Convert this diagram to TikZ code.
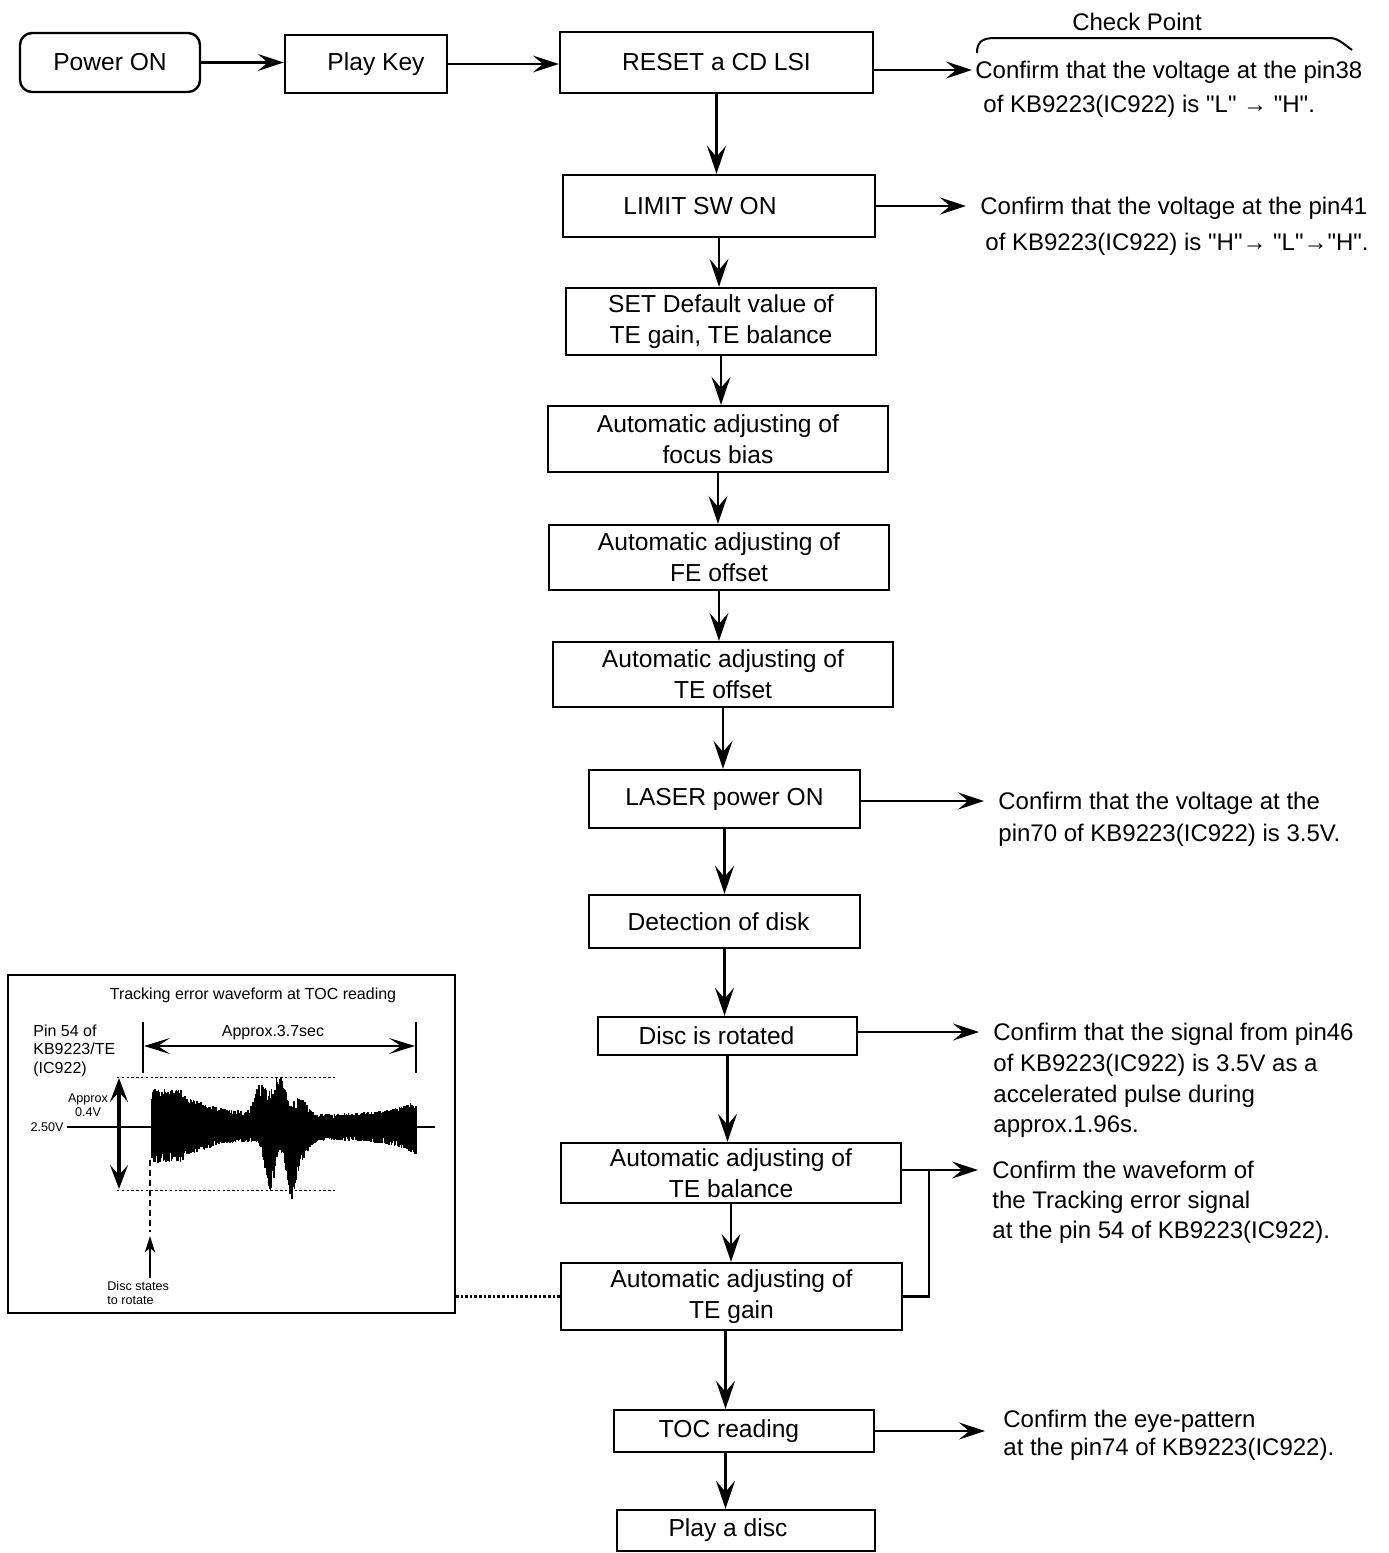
\documentclass[tikz,border=0pt]{standalone}
\usepackage{fontspec}
\setmainfont{Liberation Sans}[Ligatures=TeXOff]
\usetikzlibrary{arrows.meta,positioning,calc}

\begin{document}
\begin{tikzpicture}[x=0.5pt,y=-0.5pt,
    box/.style={draw,line width=1.2pt,align=center,inner sep=0pt,
                font=\fontsize{12.3}{15.5}\selectfont},
    note/.style={anchor=north west,align=left,inner sep=0pt,
                 font=\fontsize{12}{16}\selectfont},
    flow/.style={line width=1.1pt,-{Stealth[length=14pt,width=9.5pt,inset=5.5pt]}},
    hflow/.style={line width=1.1pt,-{Stealth[length=13pt,width=8.5pt,inset=5pt]}},
    chk/.style={hflow,shorten >=7pt},
    wire/.style={line width=1.1pt},
    small/.style={font=\fontsize{8}{9.25}\selectfont,inner sep=0pt},
    tiny/.style={font=\fontsize{6.3}{6.8}\selectfont,inner sep=0pt},
    declare function={bump(\xa,\xc,\xw)=exp(-((\xa-\xc)/\xw)*((\xa-\xc)/\xw));}]

\useasboundingbox (0,0) rectangle (1388,1553);

% main flow
\node[box,rounded corners=6pt,minimum width=90pt,minimum height=29.5pt] (power) at (110,62.5) {Power ON};
\node[box,minimum width=81pt,minimum height=29pt] (play) at (366,64) {\hspace*{10pt}Play Key};
\node[box,minimum width=156.5pt,minimum height=30.5pt] (reset) at (716.5,62.5) {RESET a CD LSI};
\node[box,minimum width=156pt,minimum height=31pt] (limit) at (719,206) {LIMIT SW ON\hspace*{19pt}};
\node[box,minimum width=155pt,minimum height=33.5pt] (setdef) at (721,321.5) {SET Default value of\\TE gain, TE balance};
\node[box,minimum width=170pt,minimum height=33pt] (focus) at (718,439) {Automatic adjusting of\\focus bias};
\node[box,minimum width=170pt,minimum height=32.5pt] (feoff) at (719,557.5) {Automatic adjusting of\\FE offset};
\node[box,minimum width=170pt,minimum height=32.5pt] (teoff) at (723,674.5) {Automatic adjusting of\\TE offset};
\node[box,minimum width=135.5pt,minimum height=29pt] (laser) at (724.5,799) {LASER power ON};
\node[box,minimum width=135.5pt,minimum height=26.5pt] (detect) at (724.5,921.5) {Detection of disk\hspace*{6pt}};
\node[box,minimum width=129.5pt,minimum height=19pt] (rotate) at (727.5,1036) {Disc is rotated\hspace*{11pt}};
\node[box,minimum width=170pt,minimum height=30pt] (tebal) at (731,1173) {Automatic adjusting of\\TE balance};
\node[box,minimum width=170.5pt,minimum height=33.5pt] (tegain) at (731.5,1296.5) {Automatic adjusting of\\TE gain};
\node[box,minimum width=130pt,minimum height=21pt] (toc) at (744,1431) {TOC reading\hspace*{15pt}};
\node[box,minimum width=129pt,minimum height=20.5pt] (playdisc) at (746,1530.5) {Play a disc\hspace*{18pt}};

\draw[hflow] (power.east) -- (power.east -| play.west);
\draw[hflow] (play.east) -- (play.east -| reset.west);

\draw[flow] (reset.south) -- (reset.south |- limit.north);
\draw[flow] (limit.south) -- (limit.south |- setdef.north);
\draw[flow] (setdef.south) -- (setdef.south |- focus.north);
\draw[flow] (focus.south) -- (focus.south |- feoff.north);
\draw[flow] (feoff.south) -- (feoff.south |- teoff.north);
\draw[flow] (teoff.south) -- (teoff.south |- laser.north);
\draw[flow] (laser.south) -- (laser.south |- detect.north);
\draw[flow] (detect.south) -- (detect.south |- rotate.north);
\draw[flow] (rotate.south) -- (rotate.south |- tebal.north);
\draw[flow] (tebal.south) -- (tebal.south |- tegain.north);
\draw[flow] ([xshift=-3pt]tegain.south) -- ([xshift=-3pt]tegain.south |- toc.north);
\draw[flow] ([xshift=-3pt]tegain.south |- toc.south) -- ([xshift=-3pt]tegain.south |- playdisc.north);

% check points
\node[font=\fontsize{12}{15}\selectfont] (cp) at (1137,22) {Check Point};
\draw[line width=1pt] (977,53) .. controls (977,42) and (982,38) .. (995,38) -- (1330,38)
    .. controls (1338,38) and (1345,45) .. (1352,50);

\node[note,font=\fontsize{12}{17}\selectfont] (chk38) at (975,61)
    {Confirm that the voltage at the pin38\\\hspace*{4pt}of KB9223(IC922) is "L" → "H".};
\node[note,font=\fontsize{12}{18}\selectfont] (chk41) at (980,197)
    {Confirm that the voltage at the pin41\\\hspace*{2.5pt}of KB9223(IC922) is "H"→ "L"→"H".};
\node[note] (chk70) at (998,792)
    {Confirm that the voltage at the\\pin70 of KB9223(IC922) is 3.5V.};
\node[note,font=\fontsize{12}{15.3}\selectfont] (chk46) at (993,1023)
    {Confirm that the signal from pin46\\of KB9223(IC922) is 3.5V as a\\accelerated pulse during\\approx.1.96s.};
\node[note,font=\fontsize{12}{15}\selectfont] (chkte) at (992,1161)
    {Confirm the waveform of\\the Tracking error signal\\at the pin 54 of KB9223(IC922).};
\node[note,font=\fontsize{12}{14}\selectfont] (chk74) at (1003,1410)
    {Confirm the eye-pattern\\at the pin74 of KB9223(IC922).};

\coordinate (in38) at ([yshift=-4.5pt]chk38.north west);
\coordinate (in41) at ([yshift=-4.5pt]chk41.north west);
\coordinate (in70) at ([yshift=-4.5pt]chk70.north west);
\coordinate (in46) at ([yshift=-4.5pt]chk46.north west);
\coordinate (inte) at ([yshift=-4.5pt]chkte.north west);
\coordinate (jn) at ($(tebal.east |- inte)+(27,0)$);

\draw[chk,shorten >=1.5pt] (reset.east |- in38) -- (in38);
\draw[chk] (limit.east |- in41) -- (in41);
\draw[chk] (laser.east |- in70) -- (in70);
\draw[chk] (rotate.east |- in46) -- (in46);
\draw[chk] (tebal.east |- inte) -- (inte);
\draw[wire] (tegain.east) -| (jn);
\draw[chk,shorten >=9pt] (toc.east) -- (toc.east -| chk74.west);

% waveform inset
\node[draw,line width=1.3pt,minimum width=223.5pt,minimum height=169pt,inner sep=0pt] (wavebox) at (231.5,1144) {};
\draw[line width=1.1pt,dash pattern=on 1.3pt off 1pt] (tegain.west) -- (tegain.west -| wavebox.east);

\node[small] (wavetitle) at (253,995) {Tracking error waveform at TOC reading};
\node[small,align=left,anchor=north west] (pinlbl) at (33,1024) {Pin 54 of\\KB9223/TE\\(IC922)};
\draw[line width=0.9pt] (143,1022) -- (143,1073) (416,1022) -- (416,1073);
\draw[line width=1pt,{Stealth[length=13pt,width=8pt,inset=6pt]}-{Stealth[length=13pt,width=8pt,inset=6pt]}] (144,1046) -- (415,1046);
\node[small] (span) at (273,1033) {Approx.3.7sec};

\draw[line width=0.5pt,dash pattern=on 1.2pt off 1.2pt] (117,1077) -- (337,1077) (117,1190) -- (337,1190);
\draw[line width=1.6pt,{Stealth[length=12pt,width=9pt,inset=5pt]}-{Stealth[length=12pt,width=9pt,inset=5pt]}] (119,1078) -- (119,1189);
\node[tiny,align=center] (amp) at (88,1105) {Approx\\0.4V};

\draw[line width=1.2pt] (67,1127) -- (435,1127);
\node[tiny,anchor=east] (ref) at (64,1127) {2.50V};

\pgfmathsetseed{3}
\foreach \wx in {152,152.5,...,416.2}{
  \pgfmathsetmacro\wtop{13+25*ifthenelse(\wx<180,1,exp(-(\wx-180)/30))+30*bump(\wx,261,8)+38*bump(\wx,279,9)+16*bump(\wx,300,9)+14*exp(-(416-\wx)/25)}
  \pgfmathsetmacro\wbot{13+23*ifthenelse(\wx<180,1,exp(-(\wx-180)/30))+52*bump(\wx,270,7)+54*bump(\wx,291,7)+18*bump(\wx,302,10)+15*exp(-(416-\wx)/25)}
  \draw[line width=0.55pt] (\wx,{1127-\wtop*(0.6+0.4*rnd)}) -- (\wx,{1127+\wbot*(0.6+0.4*rnd)});
}

\draw[line width=1.2pt,dash pattern=on 3pt off 2pt] (150,1160) -- (150,1232);
\draw[line width=1.2pt,-{Stealth[length=8pt,width=5pt,inset=2pt]}] (150,1278) -- (150,1236);
\node[tiny,align=left,anchor=north west] (startlbl) at (107,1281) {Disc states\\to rotate};

\end{tikzpicture}
\end{document}
